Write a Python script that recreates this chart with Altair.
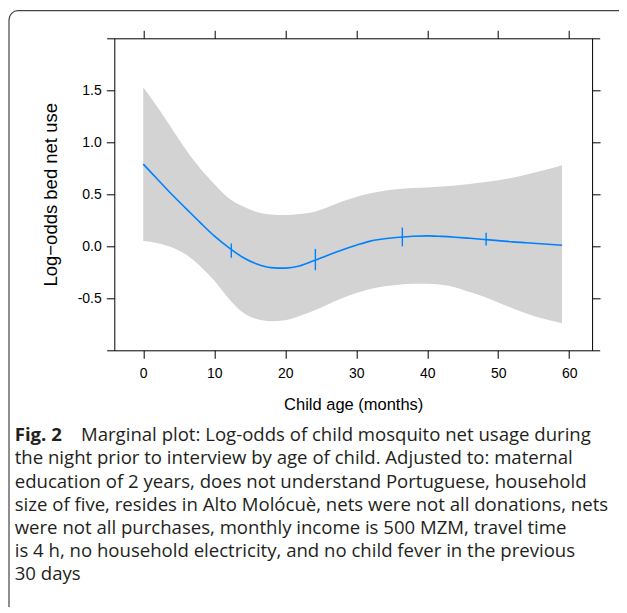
import altair as alt
import pandas as pd

# ---- data ----
age = [0, 2, 4, 6, 8, 10, 12, 14, 16, 18, 20, 22, 24, 26, 28, 30, 32, 34, 36, 38,
       40, 42, 44, 46, 48, 50, 52, 54, 56, 59]
fit = [0.79, 0.645, 0.50, 0.365, 0.23, 0.10, -0.01, -0.105, -0.17, -0.205, -0.21,
       -0.19, -0.14, -0.085, -0.035, 0.01, 0.05, 0.072, 0.087, 0.097, 0.10, 0.095,
       0.087, 0.077, 0.066, 0.055, 0.043, 0.034, 0.024, 0.01]
upper = [1.53, 1.34, 1.135, 0.93, 0.75, 0.60, 0.465, 0.385, 0.33, 0.305, 0.30, 0.31,
         0.33, 0.375, 0.43, 0.475, 0.51, 0.535, 0.55, 0.56, 0.565, 0.575, 0.585, 0.60,
         0.615, 0.635, 0.66, 0.69, 0.725, 0.78]
lower = [0.05, 0.03, -0.01, -0.08, -0.19, -0.33, -0.50, -0.635, -0.70, -0.72, -0.71,
         -0.67, -0.62, -0.56, -0.50, -0.45, -0.41, -0.385, -0.37, -0.36, -0.36, -0.37,
         -0.395, -0.44, -0.485, -0.54, -0.595, -0.645, -0.69, -0.74]
knot_age = [12.4, 24.25, 36.5, 48.3]
knot_lo = [-0.11, -0.23, 0.0, 0.007]
knot_hi = [0.026, -0.025, 0.18, 0.13]
x_ticks = [0, 10, 20, 30, 40, 50, 60]
y_ticks = [-0.5, 0.0, 0.5, 1.0, 1.5]

x_title = "Child age (months)"
y_title = "Log\u2212odds bed net use"
caption_bold = "Fig. 2"
caption_first = "Marginal plot: Log-odds of child mosquito net usage during"
caption_rest = [
    "the night prior to interview by age of child. Adjusted to: maternal",
    "education of 2 years, does not understand Portuguese, household",
    "size of five, resides in Alto Molócuè, nets were not all donations, nets",
    "were not all purchases, monthly income is 500 MZM, travel time",
    "is 4 h, no household electricity, and no child fever in the previous",
    "30 days",
]

# ---- chart ----
W, H = 493, 312
BLUE = "#0080ff"
AX_FONT = "Liberation Sans"
CAP_FONT = "Open Sans"
CAP_SIZE = 18.6

df = pd.DataFrame({"age": age, "fit": fit, "upper": upper, "lower": lower})
kdf = pd.DataFrame({"age": knot_age, "lo": knot_lo, "hi": knot_hi})

xs = alt.Scale(domain=[-5.15, 64.3], nice=False, zero=False)
ys = alt.Scale(domain=[-1, 2], nice=False, zero=False)

axis_common = dict(domainColor="black", tickColor="black", tickSize=8, grid=False,
                   domainWidth=1, tickWidth=1, labelFont=AX_FONT, labelFontSize=14,
                   labelColor="black", titleFont=AX_FONT,
                   titleFontWeight="normal", titleColor="black")

x_bottom = alt.Axis(orient="bottom", values=x_ticks, format="d", title=x_title,
                    labelPadding=8, titlePadding=16, titleFontSize=16.5, **axis_common)
x_top = alt.Axis(orient="top", values=x_ticks, labels=False, title=None, **axis_common)
y_left = alt.Axis(orient="left", values=y_ticks, offset=-7.6, title=y_title,
                  labelExpr="datum.value < 0 ? '-' + format(-datum.value, '.1f') : format(datum.value, '.1f')",
                  labelPadding=5, titlePadding=17, titleFontSize=18.5, **axis_common)
y_right = alt.Axis(orient="right", values=y_ticks, offset=-7.6, labels=False,
                   title=None, **axis_common)

band = alt.Chart(df).mark_area(color="#d3d3d3", interpolate="monotone").encode(
    x=alt.X("age:Q", scale=xs, axis=x_bottom),
    y=alt.Y("lower:Q", scale=ys, axis=y_left),
    y2="upper:Q",
)

line = alt.Chart(df).mark_line(color=BLUE, strokeWidth=1.6, interpolate="monotone").encode(
    x=alt.X("age:Q", scale=xs, axis=x_top),
    y=alt.Y("fit:Q", scale=ys, axis=y_right),
)

knots = alt.Chart(kdf).mark_rule(color=BLUE, strokeWidth=1.4).encode(
    x=alt.X("age:Q", scale=xs, axis=None),
    y=alt.Y("lo:Q", scale=ys, axis=None),
    y2="hi:Q",
)

frame = alt.Chart(pd.DataFrame({"a": [0]})).mark_rect(
    fill=None, stroke="#444444", strokeWidth=1.2, cornerRadius=9, clip=False
).encode(
    x=alt.value(-97.7), x2=alt.value(W + 60), y=alt.value(-27.6), y2=alt.value(H + 320)
)

cap_df = pd.DataFrame({"a": [0]})
cap1 = alt.Chart(cap_df).mark_text(
    text=caption_bold, font=CAP_FONT, fontSize=CAP_SIZE, fontWeight="bold", align="left",
    baseline="alphabetic", color="#231f20"
).encode(x=alt.value(-92), y=alt.value(403))
cap2 = alt.Chart(cap_df).mark_text(
    text=caption_first, font=CAP_FONT, fontSize=CAP_SIZE, align="left",
    baseline="alphabetic", color="#231f20"
).encode(x=alt.value(-25.7), y=alt.value(403))
cap3 = alt.Chart(cap_df).mark_text(
    text=caption_rest, font=CAP_FONT, fontSize=CAP_SIZE, align="left", lineHeight=23.2,
    baseline="alphabetic", color="#231f20"
).encode(x=alt.value(-92), y=alt.value(426.2))

chart = alt.layer(frame, band, line, knots, cap1, cap2, cap3).resolve_axis(
    x="independent", y="independent"
).properties(
    width=W, height=H,
    autosize=alt.AutoSizeParams(type="none"),
    padding={"left": 98.7, "top": 30.3, "right": 19, "bottom": 257},
).configure_view(stroke=None)

chart.save("out.html", embed_options={"renderer": "svg", "actions": False})
